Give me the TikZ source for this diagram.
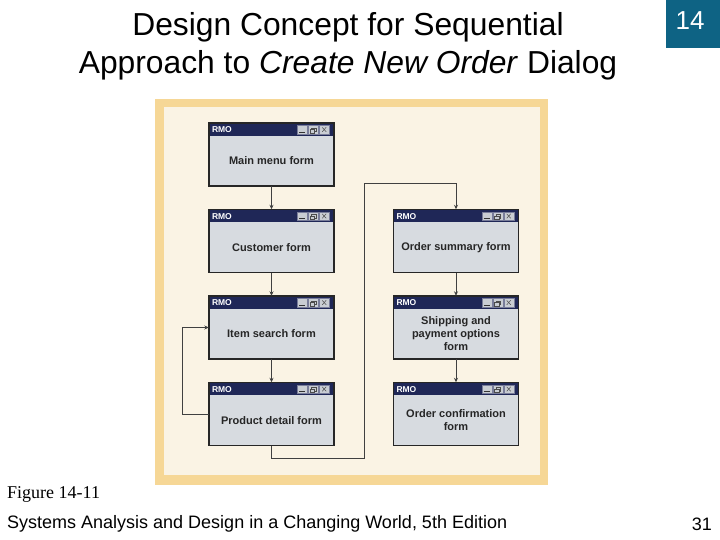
\documentclass[tikz,border=0pt]{standalone}
\usepackage{fontspec}
\setmainfont{Liberation Sans}
\newfontfamily\serifx{Liberation Serif}
\usetikzlibrary{arrows.meta,calc}
\definecolor{navy}{HTML}{1F2757}
\definecolor{formgray}{HTML}{D7DBE0}
\definecolor{btngray}{HTML}{C9CDD3}
\definecolor{cream}{HTML}{FAF3E4}
\definecolor{frameor}{HTML}{F6D796}
\definecolor{teal14}{HTML}{0E6384}
\tikzset{
 formbox/.style={fill=formgray, minimum width=125pt, minimum height=63pt, inner sep=0pt},
 formtext/.style={font=\bfseries\fontsize{11}{13}\selectfont, align=center, text=black!85},
 conn/.style={draw=black!75, line width=0.8pt},
 arr/.style={conn, -{Stealth[length=4.5pt,width=4pt]}},
 btn/.style={fill=btngray, draw=navy!60, line width=0.3pt},
}
\newcommand{\mkform}[4]{%
 \node[formbox] (#1) at (#2,#3) {};
 \fill[navy] (#1.north west) rectangle ($(#1.north east)+(0,13)$);
 \draw[line width=1.5pt, black!85] (#1.north west) rectangle (#1.south east);
 \node[anchor=west, text=white, inner sep=0pt, font=\bfseries\fontsize{8.5}{9}\selectfont] (#1rmo) at ($(#1.north west)+(3,7)$) {RMO};
 \draw[btn] ($(#1.north east)+(-37,2.5)$) rectangle ($(#1.north east)+(-27,11)$);
 \draw[btn] ($(#1.north east)+(-26,2.5)$) rectangle ($(#1.north east)+(-16,11)$);
 \draw[btn] ($(#1.north east)+(-15,2.5)$) rectangle ($(#1.north east)+(-5,11)$);
 \draw[black!80, line width=0.7pt] ($(#1.north east)+(-35,9.5)$) -- ($(#1.north east)+(-29,9.5)$);
 \draw[black!70, line width=0.4pt] ($(#1.north east)+(-23,5)$) rectangle ($(#1.north east)+(-18.5,8.5)$);
 \draw[black!70, line width=0.4pt, fill=btngray] ($(#1.north east)+(-24.5,6.5)$) rectangle ($(#1.north east)+(-20,10)$);
 \draw[black!70, line width=0.5pt] ($(#1.north east)+(-12,4.5)$) -- ($(#1.north east)+(-8,9)$);
 \draw[black!70, line width=0.5pt] ($(#1.north east)+(-12,9)$) -- ($(#1.north east)+(-8,4.5)$);
 \node[formtext] (#1t) at ($(#1.center)+(0,6.5)$) {#4};
}
\begin{document}
\begin{tikzpicture}[x=1pt,y=-1pt]
\useasboundingbox (0,0) rectangle (720,540);
\fill[white] (0,0) rectangle (720,540);
% title
\node[font=\fontsize{31.8}{36}\selectfont] (t1) at (348,27) {Design Concept for Sequential};
\node[font=\fontsize{31.8}{36}\selectfont] (t2) at (348,65) {Approach to \textit{Create New Order} Dialog};
\fill[teal14] (666,0) rectangle (720,48);
\node[text=white, font=\fontsize{26}{30}\selectfont] (num) at (690,21) {14};
% frame
\fill[frameor] (155,99) rectangle (548,485);
\fill[cream] (164,107) rectangle (540,475);
% forms
\mkform{main}{271.5}{154.5}{Main menu form}
\mkform{cust}{271.5}{241}{Customer form}
\mkform{item}{271.5}{327.5}{Item search form}
\mkform{prod}{271.5}{414}{Product detail form}
\mkform{summ}{456}{241}{Order summary form}
\mkform{ship}{456}{327.5}{Shipping and\\payment options\\form}
\mkform{conf}{456}{414}{Order confirmation\\form}
% connectors
\draw[arr] (main.south) -- (cust.north);
\draw[arr] (cust.south) -- (item.north);
\draw[arr] (item.south) -- (prod.north);
\draw[arr] (prod.west) -- ++(-26,0) |- (item.west);
\coordinate (ret) at (364,183);
\draw[arr] (prod.south) -- ++(0,13) -| (ret) -| (summ.north);
\draw[arr] (summ.south) -- (ship.north);
\draw[arr] (ship.south) -- (conf.north);
% footer
\node[anchor=west, inner sep=0pt, font=\serifx\fontsize{18}{20}\selectfont] (fig) at (7,494) {Figure 14-11};
\node[anchor=west, inner sep=0pt, font=\fontsize{18}{21}\selectfont] (foot) at (7,524) {Systems Analysis and Design in a Changing World, 5th Edition};
\node[anchor=east, inner sep=0pt, font=\fontsize{18}{21}\selectfont] (page) at (712,524) {31};
\end{tikzpicture}
\end{document}
